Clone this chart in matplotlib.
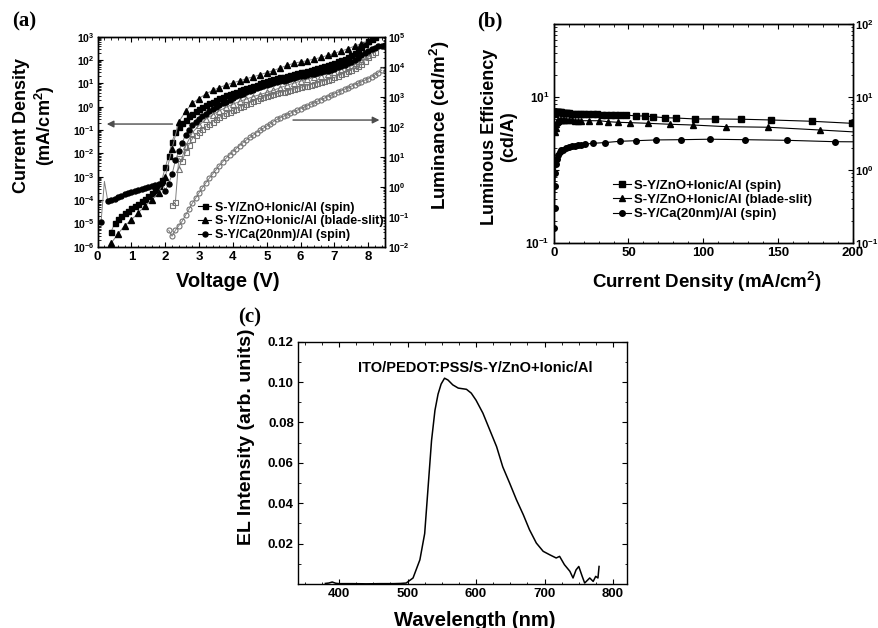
import numpy as np
import matplotlib
matplotlib.use('Agg')
import matplotlib.pyplot as plt
from matplotlib.ticker import FixedLocator, FuncFormatter, MultipleLocator, LogLocator, NullFormatter, FixedFormatter
from matplotlib.lines import Line2D

plt.rcParams['font.family'] = ['Liberation Sans', 'DejaVu Sans']
plt.rcParams['font.weight'] = 'bold'
plt.rcParams['mathtext.fontset'] = 'custom'
plt.rcParams['mathtext.rm'] = 'Liberation Sans:bold'
plt.rcParams['mathtext.bf'] = 'Liberation Sans:bold'
plt.rcParams['mathtext.it'] = 'Liberation Sans:bold'
plt.rcParams['axes.linewidth'] = 1.0

# ---------------- (a) J-V-L data ----------------
labels_a = ["S-Y/ZnO+Ionic/Al (spin)", "S-Y/ZnO+Ionic/Al (blade-slit)", "S-Y/Ca(20nm)/Al (spin)"]

v_spin = [0.4, 0.5, 0.6, 0.7, 0.8, 0.9, 1.0, 1.1, 1.2, 1.3, 1.4, 1.5, 1.6, 1.7, 1.8, 1.9, 2.0,
          2.1, 2.2, 2.3, 2.4, 2.5, 2.6, 2.7, 2.8, 2.9, 3.0, 3.1, 3.2, 3.3, 3.4, 3.5, 3.6, 3.7,
          3.8, 3.9, 4.0, 4.1, 4.2, 4.3, 4.4, 4.5, 4.6, 4.7, 4.8, 4.9, 5.0, 5.1, 5.2, 5.3, 5.4,
          5.5, 5.6, 5.7, 5.8, 5.9, 6.0, 6.1, 6.2, 6.3, 6.4, 6.5, 6.6, 6.7, 6.8, 6.9, 7.0, 7.1,
          7.2, 7.3, 7.4, 7.5, 7.6, 7.7, 7.8, 7.9, 8.0, 8.1, 8.2]
log10_J_spin = [-5.36, -5.0, -4.8, -4.68, -4.56, -4.45, -4.35, -4.25, -4.15, -4.05, -3.95, -3.83,
                -3.72, -3.58, -3.42, -3.14, -2.6, -2.1, -1.5, -1.1, -0.85, -0.7, -0.55, -0.4, -0.3,
                -0.2, -0.1, -0.01, 0.07, 0.15, 0.22, 0.29, 0.36, 0.42, 0.48, 0.54, 0.6, 0.65, 0.7,
                0.75, 0.8, 0.85, 0.9, 0.95, 1.0, 1.05, 1.1, 1.14, 1.18, 1.22, 1.26, 1.29, 1.33, 1.36,
                1.4, 1.43, 1.47, 1.5, 1.54, 1.58, 1.62, 1.66, 1.7, 1.74, 1.78, 1.83, 1.88, 1.94, 2.0,
                2.06, 2.13, 2.2, 2.3, 2.42, 2.55, 2.68, 2.8, 2.9, 2.97]

v_blade = [0.4, 0.6, 0.8, 1.0, 1.2, 1.4, 1.6, 1.8, 2.0, 2.2, 2.4, 2.6, 2.8, 3.0, 3.2, 3.4, 3.6,
           3.8, 4.0, 4.2, 4.4, 4.6, 4.8, 5.0, 5.2, 5.4, 5.6, 5.8, 6.0, 6.2, 6.4, 6.6, 6.8, 7.0,
           7.2, 7.4, 7.6, 7.8, 8.0]
log10_J_blade = [-5.85, -5.45, -5.1, -4.85, -4.55, -4.25, -4.0, -3.7, -3.0, -1.8, -0.65, -0.2,
                 0.15, 0.35, 0.55, 0.7, 0.82, 0.93, 1.02, 1.11, 1.2, 1.28, 1.37, 1.46, 1.55, 1.66,
                 1.77, 1.86, 1.92, 1.97, 2.04, 2.11, 2.2, 2.29, 2.38, 2.48, 2.6, 2.7, 2.8]

v_ca = [0.1, 0.2, 0.3, 0.4, 0.5, 0.6, 0.7, 0.8, 0.9, 1.0, 1.1, 1.2, 1.3, 1.4, 1.5, 1.6, 1.7, 1.8,
        1.9, 2.0, 2.1, 2.2, 2.3, 2.4, 2.5, 2.6, 2.7, 2.8, 2.9, 3.0, 3.1, 3.2, 3.3, 3.4, 3.5, 3.6,
        3.7, 3.8, 3.9, 4.0, 4.1, 4.2, 4.3, 4.4, 4.5, 4.6, 4.7, 4.8, 4.9, 5.0, 5.1, 5.2, 5.3, 5.4,
        5.5, 5.6, 5.7, 5.8, 5.9, 6.0, 6.1, 6.2, 6.3, 6.4, 6.5, 6.6, 6.7, 6.8, 6.9, 7.0, 7.1, 7.2,
        7.3, 7.4, 7.5, 7.6, 7.7, 7.8, 7.9, 8.0, 8.1, 8.2, 8.3, 8.4, 8.5]
log10_J_ca = [-4.95, -3.2, -4.05, -4.0, -3.94, -3.88, -3.82, -3.76, -3.71, -3.66, -3.61, -3.57,
              -3.52, -3.48, -3.44, -3.4, -3.36, -3.3, -3.25, -3.6, -3.3, -2.9, -2.3, -1.9, -1.55,
              -1.2, -0.98, -0.8, -0.66, -0.53, -0.41, -0.3, -0.2, -0.1, -0.02, 0.06, 0.14, 0.22,
              0.3, 0.37, 0.44, 0.5, 0.56, 0.62, 0.68, 0.73, 0.78, 0.83, 0.88, 0.93, 0.97, 1.01,
              1.05, 1.09, 1.12, 1.16, 1.19, 1.23, 1.26, 1.3, 1.33, 1.36, 1.39, 1.42, 1.45, 1.48,
              1.52, 1.55, 1.59, 1.63, 1.68, 1.73, 1.79, 1.86, 1.93, 2.01, 2.1, 2.2, 2.3, 2.4,
              2.47, 2.53, 2.58, 2.62, 2.65]
ca_hidden_marker = [1]  # spike point drawn only by the connecting line

vL_spin = [2.2, 2.3, 2.4, 2.5, 2.6, 2.7, 2.8, 2.9, 3.0, 3.1, 3.2, 3.3, 3.4, 3.5, 3.6, 3.7, 3.8,
           3.9, 4.0, 4.1, 4.2, 4.3, 4.4, 4.5, 4.6, 4.7, 4.8, 4.9, 5.0, 5.1, 5.2, 5.3, 5.4, 5.5,
           5.6, 5.7, 5.8, 5.9, 6.0, 6.1, 6.2, 6.3, 6.4, 6.5, 6.6, 6.7, 6.8, 6.9, 7.0, 7.1, 7.2,
           7.3, 7.4, 7.5, 7.6, 7.7, 7.8, 7.9, 8.0, 8.1, 8.2]
log10_L_spin = [-0.62, -0.5, 0.95, 0.85, 1.15, 1.4, 1.6, 1.73, 1.83, 1.92, 2.01, 2.09, 2.17, 2.24,
                2.31, 2.38, 2.45, 2.5, 2.55, 2.6, 2.65, 2.7, 2.75, 2.8, 2.85, 2.9, 2.94, 2.98, 3.02,
                3.05, 3.08, 3.11, 3.14, 3.17, 3.19, 3.22, 3.25, 3.28, 3.31, 3.34, 3.37, 3.4, 3.43,
                3.46, 3.49, 3.52, 3.56, 3.6, 3.64, 3.69, 3.74, 3.79, 3.85, 3.9, 3.96, 4.02, 4.1,
                4.2, 4.32, 4.42, 4.5]

vL_blade = [2.4, 2.6, 2.8, 3.0, 3.2, 3.4, 3.6, 3.8, 4.0, 4.2, 4.4, 4.6, 4.8, 5.0, 5.2, 5.4, 5.6,
            5.8, 6.0, 6.2, 6.4, 6.6, 6.8, 7.0, 7.2, 7.4, 7.6, 7.8, 8.0]
log10_L_blade = [0.6, 1.35, 1.8, 2.05, 2.25, 2.4, 2.53, 2.65, 2.75, 2.84, 2.92, 3.0, 3.07, 3.14,
                 3.21, 3.3, 3.38, 3.45, 3.52, 3.58, 3.64, 3.7, 3.76, 3.83, 3.9, 3.98, 4.07, 4.2, 4.38]

vL_ca = [2.1, 2.2, 2.3, 2.4, 2.5, 2.6, 2.7, 2.8, 2.9, 3.0, 3.1, 3.2, 3.3, 3.4, 3.5, 3.6, 3.7, 3.8,
         3.9, 4.0, 4.1, 4.2, 4.3, 4.4, 4.5, 4.6, 4.7, 4.8, 4.9, 5.0, 5.1, 5.2, 5.3, 5.4, 5.5, 5.6,
         5.7, 5.8, 5.9, 6.0, 6.1, 6.2, 6.3, 6.4, 6.5, 6.6, 6.7, 6.8, 6.9, 7.0, 7.1, 7.2, 7.3, 7.4,
         7.5, 7.6, 7.7, 7.8, 7.9, 8.0, 8.1, 8.2, 8.3, 8.4]
log10_L_ca = [-1.45, -1.65, -1.45, -1.3, -1.15, -0.95, -0.75, -0.55, -0.38, -0.2, -0.03, 0.13,
              0.28, 0.42, 0.56, 0.7, 0.83, 0.95, 1.06, 1.17, 1.27, 1.37, 1.47, 1.56, 1.64, 1.72,
              1.8, 1.88, 1.95, 2.02, 2.1, 2.17, 2.24, 2.3, 2.35, 2.4, 2.45, 2.5, 2.55, 2.6, 2.65,
              2.7, 2.75, 2.8, 2.85, 2.9, 2.95, 3.0, 3.05, 3.1, 3.15, 3.2, 3.25, 3.3, 3.35, 3.4,
              3.45, 3.5, 3.55, 3.6, 3.66, 3.73, 3.8, 3.88]

# ---------------- (b) efficiency data ----------------
Jb_spin = [0.5, 1, 1.5, 2, 2.5, 3, 4, 5, 6, 7, 8, 9, 10, 12, 14, 16, 18, 20, 23, 26, 29, 32, 35,
           38, 41, 44, 48.1, 55.2, 60.8, 66.4, 74.2, 82.0, 94.3, 107.7, 125.6, 145.7, 172.5, 199.3]
eff_spin = [5.8, 6.2, 6.3, 6.3, 6.3, 6.25, 6.2, 6.15, 6.1, 6.05, 6.0, 5.98, 5.95, 5.92, 5.9, 5.87,
            5.85, 5.82, 5.8, 5.78, 5.76, 5.74, 5.72, 5.7, 5.68, 5.67, 5.66, 5.5, 5.5, 5.37, 5.2,
            5.15, 5.0, 5.0, 4.96, 4.84, 4.65, 4.36]

Jb_blade = [0.8, 1.2, 1.6, 2.0, 2.5, 3, 4, 5, 6, 7, 8, 10, 12, 14, 16, 18.4, 23.9, 30.6, 36.2,
            42.9, 50.7, 63.0, 77.5, 93.2, 115.5, 143.4, 178.1, 215]
eff_blade = [3.3, 3.8, 4.3, 4.6, 4.75, 4.8, 4.85, 4.85, 4.85, 4.8, 4.8, 4.8, 4.78, 4.76, 4.75,
             4.73, 4.73, 4.73, 4.59, 4.50, 4.45, 4.36, 4.23, 4.13, 3.92, 3.85, 3.53, 3.2]

Jb_ca = [0.3, 0.5, 0.8, 1.0, 1.5, 2, 3, 4, 5, 6, 8, 10, 12, 14, 16, 18, 20.6, 26.1, 34.0, 44.0,
         55.2, 68.6, 85.4, 104.4, 127.8, 155.8, 188.1, 220]
eff_ca = [0.16, 0.3, 0.6, 0.9, 1.2, 1.4, 1.6, 1.75, 1.85, 1.9, 2.0, 2.07, 2.12, 2.16, 2.2, 2.22,
          2.25, 2.32, 2.37, 2.47, 2.52, 2.58, 2.60, 2.64, 2.60, 2.55, 2.44, 2.42]

# ---------------- (c) EL spectrum ----------------
wavelength = [380, 385, 390, 395, 400, 420, 440, 460, 480, 490, 498, 508, 518, 525, 530, 535,
              540, 544.5, 549, 554, 559, 566, 574, 586, 593, 600, 610, 620, 630, 639, 649, 659,
              669, 678, 688, 698, 707.5, 717, 722, 729, 737, 741.6, 746, 750, 755, 758.6, 766,
              771, 774.7, 778, 779.6]
el_intensity = [0.0003, 0.0005, 0.001, 0.0004, 0.0002, 0.0002, 0.0001, 0.0002, 0.0002, 0.0003,
                0.0005, 0.003, 0.012, 0.025, 0.048, 0.071, 0.086, 0.094, 0.099, 0.1019, 0.101,
                0.0986, 0.097, 0.0964, 0.0945, 0.091, 0.0846, 0.0763, 0.068, 0.058, 0.050,
                0.0417, 0.0343, 0.0269, 0.0203, 0.0162, 0.0145, 0.0129, 0.0137, 0.0096, 0.0063,
                0.003, 0.007, 0.0087, 0.0038, 0.0005, 0.003, 0.0013, 0.0038, 0.003, 0.0087]


def logfmt(v, pos):
    if v <= 0:
        return ''
    e = int(round(np.log10(v)))
    return r'$10^{%d}$' % e


fig = plt.figure(figsize=(8.79, 6.28), dpi=100)

# ============ panel (a) ============
ax_a = fig.add_axes([0.1111, 0.6072, 0.327, 0.3344])
ax_r = ax_a.twinx()
ax_a.set_zorder(ax_r.get_zorder() + 1)
ax_a.patch.set_visible(False)

gray = '0.5'
openc = '0.45'
ax_r.plot(vL_spin, 10 ** np.array(log10_L_spin), '-', color=gray, lw=0.7,
          marker='s', ms=3.6, mfc='none', mec=openc, mew=0.8)
ax_r.plot(vL_blade, 10 ** np.array(log10_L_blade), '-', color=gray, lw=0.7,
          marker='^', ms=3.8, mfc='none', mec=openc, mew=0.8)
ax_r.plot(vL_ca, 10 ** np.array(log10_L_ca), '-', color=gray, lw=0.7,
          marker='o', ms=3.6, mfc='none', mec=openc, mew=0.8)
ax_r.set_yscale('log')
ax_r.set_ylim(1e-2, 1e5)

ax_a.plot(v_spin, 10 ** np.array(log10_J_spin), '-', color=gray, lw=0.7,
          marker='s', ms=3.6, mfc='k', mec='k')
ax_a.plot(v_blade, 10 ** np.array(log10_J_blade), '-', color=gray, lw=0.7,
          marker='^', ms=4.2, mfc='k', mec='k')
ca_marks = [i for i in range(len(v_ca)) if i not in ca_hidden_marker]
ax_a.plot(v_ca, 10 ** np.array(log10_J_ca), '-', color=gray, lw=0.7,
          marker='o', ms=3.6, mfc='k', mec='k', markevery=ca_marks)
ax_a.set_yscale('log')
ax_a.set_ylim(1e-6, 1e3)
ax_a.set_xlim(0, 8.5)

for ax in (ax_a, ax_r):
    ax.yaxis.set_major_locator(LogLocator(base=10, numticks=20))
    ax.yaxis.set_minor_locator(LogLocator(base=10, subs=np.arange(2, 10), numticks=20))
    ax.yaxis.set_minor_formatter(NullFormatter())
    ax.yaxis.set_major_formatter(FuncFormatter(logfmt))
ax_a.xaxis.set_major_locator(MultipleLocator(1))
ax_a.xaxis.set_minor_locator(MultipleLocator(0.2))
ax_a.tick_params(axis='both', which='both', direction='in', top=True, right=False)
ax_a.tick_params(axis='y', which='major', length=3.5, labelsize=7.5, pad=2)
ax_a.tick_params(axis='y', which='minor', length=1.8)
ax_a.tick_params(axis='x', which='major', length=3.5, labelsize=9.5, pad=3)
ax_a.tick_params(axis='x', which='minor', length=1.8)
ax_r.tick_params(axis='y', which='both', direction='in', left=False, right=True)
ax_r.tick_params(axis='y', which='major', length=3.5, labelsize=7.5, pad=2)
ax_r.tick_params(axis='y', which='minor', length=1.8)

handles_a = [Line2D([], [], color='k', lw=0.8, marker='s', ms=3.6),
             Line2D([], [], color='k', lw=0.8, marker='^', ms=4.2),
             Line2D([], [], color='k', lw=0.8, marker='o', ms=3.6)]
ax_a.legend(handles_a, labels_a, loc='lower right', bbox_to_anchor=(1.02, -0.01),
            frameon=False, fontsize=9, handlelength=1.0, handletextpad=0.3,
            labelspacing=0.15, borderaxespad=0.2, numpoints=1)

ax_a.annotate('', xy=(0.022, 0.584), xytext=(0.27, 0.584), xycoords='axes fraction',
              arrowprops=dict(arrowstyle='-|>', color='0.3', lw=1.0, mutation_scale=10))
ax_a.annotate('', xy=(0.99, 0.603), xytext=(0.67, 0.603), xycoords='axes fraction',
              arrowprops=dict(arrowstyle='-|>', color='0.3', lw=1.0, mutation_scale=10))

fig.text(0.040, 0.80, 'Current Density\n(mA/cm$^{2}$)', rotation=90, ha='center', va='center',
         fontsize=13, fontweight='bold', linespacing=1.15)
fig.text(0.5006, 0.80, 'Luminance (cd/m$^{2}$)', rotation=90, ha='center', va='center',
         fontsize=13.5, fontweight='bold')
fig.text(0.2594, 0.551, 'Voltage (V)', ha='center', va='center', fontsize=14.5, fontweight='bold')
fig.text(0.027, 0.965, '(a)', ha='center', va='center', fontsize=15, fontweight='bold',
         family='Liberation Serif')

# ============ panel (b) ============
ax_b = fig.add_axes([0.630, 0.6131, 0.340, 0.3487])
ax_b2 = ax_b.twinx()
ax_b.set_zorder(ax_b2.get_zorder() + 1)
ax_b.patch.set_visible(False)
ax_b.plot(Jb_spin, eff_spin, '-', color='k', lw=0.8, marker='s', ms=4.0)
ax_b.plot(Jb_blade, eff_blade, '-', color='k', lw=0.8, marker='^', ms=4.6)
ax_b.plot(Jb_ca, eff_ca, '-', color='k', lw=0.8, marker='o', ms=4.0)
ax_b.set_xlim(0, 200)
for ax in (ax_b, ax_b2):
    ax.set_yscale('log')
    ax.set_ylim(0.1, 100)
    ax.yaxis.set_minor_locator(LogLocator(base=10, subs=np.arange(2, 10), numticks=20))
    ax.yaxis.set_minor_formatter(NullFormatter())
ax_b.yaxis.set_major_locator(FixedLocator([0.1, 1, 10, 100]))
ax_b.yaxis.set_major_formatter(FixedFormatter([r'$10^{-1}$', '', r'$10^{1}$', '']))
ax_b2.yaxis.set_major_locator(FixedLocator([0.1, 1, 10, 100]))
ax_b2.yaxis.set_major_formatter(FuncFormatter(logfmt))
ax_b.xaxis.set_major_locator(MultipleLocator(50))
ax_b.xaxis.set_minor_locator(MultipleLocator(10))
ax_b.tick_params(axis='both', which='both', direction='in', top=True, right=False)
ax_b.tick_params(axis='both', which='major', length=3.5, pad=3)
ax_b.tick_params(axis='both', which='minor', length=1.8)
ax_b.tick_params(axis='x', labelsize=9.5)
ax_b.tick_params(axis='y', labelsize=8.5)
ax_b2.tick_params(axis='y', which='both', direction='in', left=False, right=True, labelsize=8,
                  pad=1.5)
ax_b2.tick_params(axis='y', which='major', length=3.5)
ax_b2.tick_params(axis='y', which='minor', length=1.8)

handles_b = [Line2D([], [], color='k', lw=0.8, marker='s', ms=4.0),
             Line2D([], [], color='k', lw=0.8, marker='^', ms=4.6),
             Line2D([], [], color='k', lw=0.8, marker='o', ms=4.0)]
ax_b.legend(handles_b, labels_a, loc='lower left', bbox_to_anchor=(0.18, 0.08),
            frameon=False, fontsize=9.5, handlelength=1.4, handletextpad=0.2,
            labelspacing=0.15, borderaxespad=0.0, numpoints=1)

fig.text(0.5677, 0.782, 'Luminous Efficiency\n(cd/A)', rotation=90, ha='center', va='center',
         fontsize=13, fontweight='bold', linespacing=1.15)
fig.text(0.804, 0.551, 'Current Density (mA/cm$^{2}$)', ha='center', va='center',
         fontsize=13.5, fontweight='bold')
fig.text(0.557, 0.965, '(b)', ha='center', va='center', fontsize=15, fontweight='bold',
         family='Liberation Serif')

# ============ panel (c) ============
ax_c = fig.add_axes([0.339, 0.070, 0.374, 0.386])
ax_c.plot(wavelength, el_intensity, '-', color='k', lw=1.1)
ax_c.set_xlim(340, 820)
ax_c.set_ylim(0, 0.12)
ax_c.xaxis.set_major_locator(FixedLocator([400, 500, 600, 700, 800]))
ax_c.xaxis.set_minor_locator(MultipleLocator(25))
ax_c.yaxis.set_major_locator(FixedLocator([0.02, 0.04, 0.06, 0.08, 0.10, 0.12]))
ax_c.yaxis.set_minor_locator(MultipleLocator(0.01))
ax_c.yaxis.set_major_formatter(FuncFormatter(lambda v, p: '%.2f' % v))
ax_c.tick_params(axis='both', which='both', direction='in', top=True, right=True)
ax_c.tick_params(axis='both', which='major', length=3.5, labelsize=9.5, pad=3)
ax_c.tick_params(axis='both', which='minor', length=1.8)
ax_c.text(0.538, 0.891, 'ITO/PEDOT:PSS/S-Y/ZnO+Ionic/Al', transform=ax_c.transAxes,
          ha='center', va='center', fontsize=10.5, fontweight='bold')

fig.text(0.281, 0.304, 'EL Intensity (arb. units)', rotation=90, ha='center', va='center',
         fontsize=14, fontweight='bold')
fig.text(0.540, 0.0127, 'Wavelength (nm)', ha='center', va='center', fontsize=14.5,
         fontweight='bold')
fig.text(0.284, 0.495, '(c)', ha='center', va='center', fontsize=15, fontweight='bold',
         family='Liberation Serif')

fig.savefig('out.png', dpi=100)
